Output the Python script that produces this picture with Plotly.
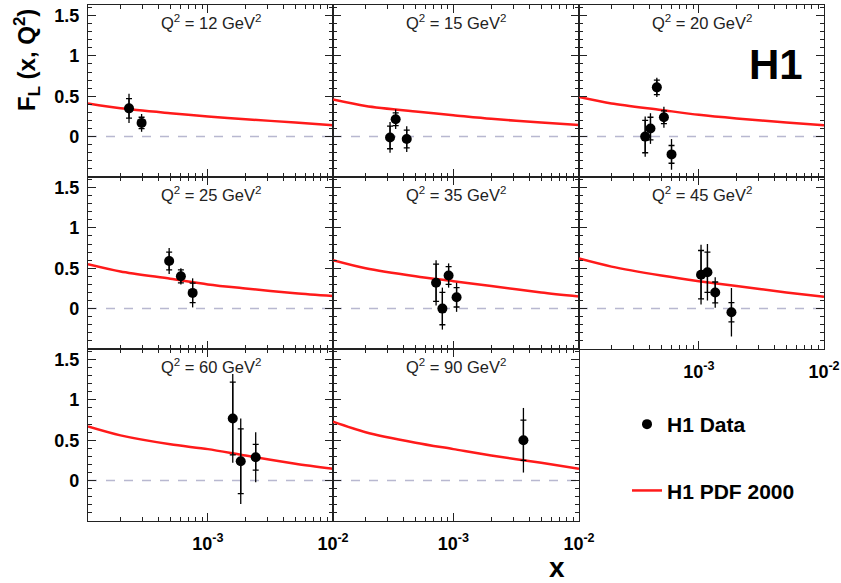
import plotly.graph_objects as go

# ---------------- data ----------------
q2_values = ["12", "15", "20", "25", "35", "45", "60", "90"]

# H1 data points per Q2 bin: x, F_L, stat error, total error
x_12 = [2.34e-4, 2.95e-4]
fl_12 = [0.35, 0.17]
stat_12 = [0.12, 0.07]
tot_12 = [0.18, 0.11]

x_15 = [3.13e-4, 3.47e-4, 4.25e-4]
fl_15 = [-0.01, 0.215, -0.03]
stat_15 = [0.14, 0.08, 0.11]
tot_15 = [0.19, 0.12, 0.16]

x_20 = [3.72e-4, 4.10e-4, 4.61e-4, 5.25e-4, 6.04e-4]
fl_20 = [0.00, 0.10, 0.61, 0.24, -0.22]
stat_20 = [0.20, 0.14, 0.09, 0.08, 0.11]
tot_20 = [0.25, 0.19, 0.12, 0.13, 0.19]

x_25 = [4.9e-4, 6.08e-4, 7.55e-4]
fl_25 = [0.59, 0.40, 0.195]
stat_25 = [0.11, 0.08, 0.12]
tot_25 = [0.16, 0.10, 0.18]

x_35 = [7.28e-4, 8.17e-4, 9.16e-4, 1.06e-3]
fl_35 = [0.32, 0.00, 0.41, 0.14]
stat_35 = [0.23, 0.20, 0.11, 0.12]
tot_35 = [0.28, 0.26, 0.15, 0.18]

x_45 = [1.04e-3, 1.17e-3, 1.35e-3, 1.82e-3]
fl_45 = [0.42, 0.45, 0.20, -0.045]
stat_45 = [0.30, 0.25, 0.13, 0.12]
tot_45 = [0.37, 0.35, 0.19, 0.30]

x_60 = [1.58e-3, 1.83e-3, 2.41e-3]
fl_60 = [0.77, 0.24, 0.29]
stat_60 = [0.45, 0.40, 0.16]
tot_60 = [0.55, 0.53, 0.31]

x_90 = [3.61e-3]
fl_90 = [0.50]
stat_90 = [0.25]
tot_90 = [0.40]

# H1 PDF 2000 prediction, read at these x values
pdf_x = [1.1e-4, 2e-4, 5e-4, 1e-3, 2e-3, 5e-3, 1e-2]
pdf_12 = [0.41, 0.35, 0.29, 0.25, 0.215, 0.175, 0.14]
pdf_15 = [0.46, 0.38, 0.31, 0.265, 0.22, 0.175, 0.145]
pdf_20 = [0.49, 0.41, 0.33, 0.27, 0.225, 0.175, 0.14]
pdf_25 = [0.55, 0.46, 0.37, 0.30, 0.25, 0.19, 0.155]
pdf_35 = [0.60, 0.50, 0.40, 0.34, 0.28, 0.20, 0.15]
pdf_45 = [0.62, 0.52, 0.41, 0.34, 0.28, 0.20, 0.146]
pdf_60 = [0.67, 0.56, 0.45, 0.39, 0.31, 0.21, 0.146]
pdf_90 = [0.73, 0.60, 0.47, 0.39, 0.31, 0.22, 0.146]

x_tick_vals = [1e-3, 1e-2]
x_tick_text = ["10<sup>-3</sup>", "10<sup>-2</sup>"]
x_minor_vals = [2e-4, 3e-4, 4e-4, 5e-4, 6e-4, 7e-4, 8e-4, 9e-4,
                2e-3, 3e-3, 4e-3, 5e-3, 6e-3, 7e-3, 8e-3, 9e-3]
y_tick_vals = [0, 0.5, 1, 1.5]
y_tick_text = ["0", "0.5", "1", "1.5"]

panels = [
    (x_12, fl_12, stat_12, tot_12, pdf_12),
    (x_15, fl_15, stat_15, tot_15, pdf_15),
    (x_20, fl_20, stat_20, tot_20, pdf_20),
    (x_25, fl_25, stat_25, tot_25, pdf_25),
    (x_35, fl_35, stat_35, tot_35, pdf_35),
    (x_45, fl_45, stat_45, tot_45, pdf_45),
    (x_60, fl_60, stat_60, tot_60, pdf_60),
    (x_90, fl_90, stat_90, tot_90, pdf_90),
]

# ---------------- layout geometry ----------------
W, H = 841, 583
col_px = [(88, 333), (333, 579), (579, 824)]
row_px = [(5, 177), (177, 349), (349, 521)]
FONT = "Liberation Sans, Arial, Helvetica, sans-serif"
X_RANGE = [-3.9586, -2.0]
Y_RANGE = [-0.5, 1.63]

fig = go.Figure()
layout = dict(
    width=W, height=H,
    margin=dict(l=0, r=0, t=0, b=0, autoexpand=False),
    paper_bgcolor="white", plot_bgcolor="white",
    showlegend=True,
    legend=dict(
        x=627 / W, y=1 - 404 / H, xanchor="left", yanchor="top",
        font=dict(family=FONT, size=21, color="black", weight="bold"),
        tracegroupgap=36, bgcolor="rgba(0,0,0,0)", itemwidth=30,
    ),
    shapes=[], annotations=[],
)

for i, (xs, ys, st, tt, pdf) in enumerate(panels):
    r, c = divmod(i, 3)
    n = "" if i == 0 else str(i + 1)
    xa, ya = "x" + n, "y" + n
    x0, x1 = col_px[c]
    yt, yb = row_px[r]
    show_xlab = (r == 2) or (r == 1 and c == 2)
    show_ylab = (c == 0)

    layout["xaxis" + n] = dict(
        type="log", range=X_RANGE, domain=[x0 / W, x1 / W], anchor=ya,
        automargin=False,
        showgrid=False, zeroline=False,
        showline=True, linecolor="#222222", linewidth=1.2, mirror="allticks",
        ticks="inside", ticklen=8, tickwidth=1, tickcolor="#222222",
        tickmode="array", tickvals=x_tick_vals, ticktext=x_tick_text,
        showticklabels=show_xlab, ticklabelstandoff=6,
        tickfont=dict(family=FONT, size=18, color="black", weight="bold"),
        minor=dict(tickmode="array", tickvals=x_minor_vals, ticks="inside",
                   ticklen=4, tickwidth=1, tickcolor="#222222", showgrid=False),
    )
    layout["yaxis" + n] = dict(
        range=Y_RANGE, domain=[1 - yb / H, 1 - yt / H], anchor=xa,
        automargin=False,
        showgrid=False, zeroline=False,
        showline=True, linecolor="#222222", linewidth=1.2, mirror="allticks",
        ticks="inside", ticklen=8, tickwidth=1, tickcolor="#222222",
        tickmode="array", tickvals=y_tick_vals, ticktext=y_tick_text,
        showticklabels=show_ylab, ticklabelstandoff=4,
        tickfont=dict(family=FONT, size=18, color="black", weight="bold"),
        minor=dict(dtick=0.1, tick0=0, ticks="inside", ticklen=4,
                   tickwidth=1, tickcolor="#222222", showgrid=False),
    )

    # dashed zero line
    layout["shapes"].append(dict(
        type="line", xref=xa + " domain", yref=ya, x0=0, x1=1, y0=0, y1=0,
        line=dict(color="#b8b8d0", width=1.5, dash="dash"), layer="below",
    ))

    # panel label
    layout["annotations"].append(dict(
        xref=xa + " domain", yref=ya + " domain", x=0.5, y=1 - 17 / 172,
        text=f"Q<sup>2</sup> = {q2_values[i]} GeV<sup>2</sup>",
        showarrow=False, xanchor="center", yanchor="middle",
        font=dict(family=FONT, size=16.5, color="#222222"),
    ))

    # prediction curve
    fig.add_trace(go.Scatter(
        x=pdf_x, y=pdf, mode="lines", xaxis=xa, yaxis=ya,
        line=dict(color="#ff1a1a", width=2.5, shape="spline", smoothing=0.8),
        name="H1 PDF 2000", legendgroup="pdf", showlegend=(i == 0),
        legendrank=2, hoverinfo="skip",
    ))
    # stat errors (ticks)
    fig.add_trace(go.Scatter(
        x=xs, y=ys, mode="markers", xaxis=xa, yaxis=ya,
        marker=dict(size=1, color="rgba(0,0,0,0)"),
        error_y=dict(type="data", array=st, symmetric=True, color="black",
                     thickness=1.3, width=3),
        showlegend=False, hoverinfo="skip",
    ))
    # total errors + points
    fig.add_trace(go.Scatter(
        x=xs, y=ys, mode="markers", xaxis=xa, yaxis=ya,
        marker=dict(size=10, color="black"),
        error_y=dict(type="data", array=tt, symmetric=True, color="black",
                     thickness=1.3, width=0),
        name="H1 Data", legendgroup="data", showlegend=(i == 0),
        legendrank=1,
    ))

# global texts
layout["annotations"] += [
    dict(xref="paper", yref="paper", x=27 / W, y=1 - 60 / H,
         text="F<sub>L</sub> (x, Q<sup>2</sup>)", textangle=-90,
         showarrow=False, xanchor="center", yanchor="middle",
         font=dict(family=FONT, size=24, color="black", weight="bold")),
    dict(xref="paper", yref="paper", x=557 / W, y=1 - 567 / H,
         text="x", showarrow=False, xanchor="center", yanchor="middle",
         font=dict(family=FONT, size=28, color="black", weight="bold")),
    dict(xref="paper", yref="paper", x=776 / W, y=1 - 64 / H,
         text="H1", showarrow=False, xanchor="center", yanchor="middle",
         font=dict(family=FONT, size=42, color="black", weight="bold")),
]

fig.update_layout(**layout)
fig.write_html(
    "out.html",
    config={"displayModeBar": False},
    post_script=(
        "document.documentElement.style.margin='0';"
        "document.documentElement.style.overflow='hidden';"
        "document.body.style.margin='0';document.body.style.padding='0';"
        "document.body.style.overflow='hidden';"
    ),
)
